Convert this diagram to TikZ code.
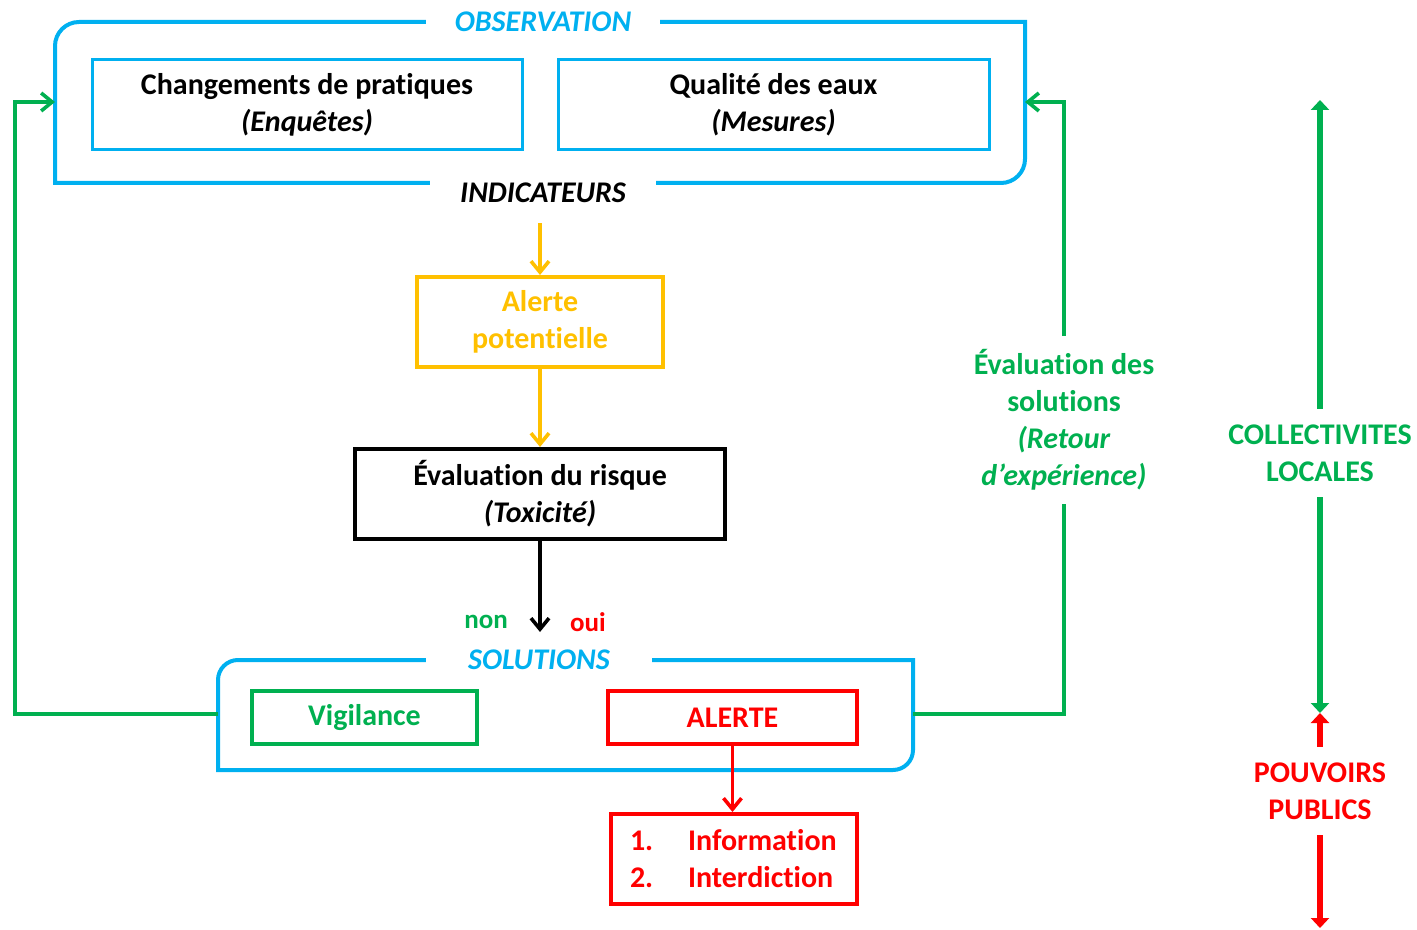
\documentclass[tikz,border=0pt]{standalone}
\usepackage{fontspec}
\setmainfont{Carlito}[Ligatures=NoCommon]
\usepackage{tikz}
\usetikzlibrary{positioning, arrows.meta}
\definecolor{obsblue}{HTML}{00B0F0}
\definecolor{okgreen}{HTML}{00B050}
\definecolor{alertred}{HTML}{FF0000}
\definecolor{alertorange}{HTML}{FFC000}

\tikzset{
  box/.style={draw, line width=2pt, align=center, inner sep=0pt, font=\bfseries},
  frameline/.style={draw=obsblue, line width=2pt},
  framelabel/.style={fill=white, text=obsblue, font=\bfseries\itshape, inner xsep=14.5pt},
  barb/.style={-{Straight Barb[length=5.5pt,width=9pt]}, line width=1.8pt},
  bigarrow/.style={line width=3pt, {Triangle[length=5pt,width=9pt]}-{Triangle[length=5pt,width=9pt]}},
  sidelabel/.style={fill=white, align=center, font=\bfseries, inner xsep=2pt}
}

\begin{document}
\fontsize{15}{18.5}\selectfont
\begin{tikzpicture}[x=0.5pt, y=-0.5pt]
    \useasboundingbox (0,0) rectangle (1417,930);

    % observation frame
    \draw[frameline] (55,100) {[rounded corners=12pt] -- (55,22) -- (540,22)} -- (1025,22)
      -- (1025,100) {[rounded corners=12pt] -- (1025,183) -- (540,183)} -- (55,183) -- cycle;
    \node[framelabel] (obs) at (543,22) {OBSERVATION};
    \node[framelabel, text=black, inner xsep=15pt] (ind) at (543,193) {INDICATEURS};
    \coordinate (obs-w) at (55,102);
    \coordinate (obs-e) at (1025,102);

    \node[box, draw=obsblue, line width=1.5pt, minimum width=215pt, minimum height=45pt] (chg) at (307,105)
      {Changements de pratiques\\\textit{(Enquêtes)}};
    \node[box, draw=obsblue, line width=1.5pt, minimum width=215.5pt, minimum height=45pt] (qual) at (773.5,105)
      {Qualité des eaux\\\textit{(Mesures)}};

    % risk chain
    \node[box, draw=alertorange, text=alertorange, minimum width=123pt, minimum height=45pt] (alpot) at (540,322)
      {Alerte\\potentielle};
    \node[box, minimum width=185pt, minimum height=45pt] (evalr) at (540,494)
      {Évaluation du risque\\\textit{(Toxicité)}};
    \coordinate (choice) at (540,632);

    \draw[barb, alertorange] ([yshift=-5pt]ind.south -| alpot.north) -- (alpot.north);
    \draw[barb, alertorange] (alpot) -- (evalr);
    \draw[barb, black] (evalr) -- (choice);
    \node[text=okgreen, font=\bfseries\fontsize{13.5}{16}\selectfont] (non) at (486,622) {non};
    \node[text=alertred, font=\bfseries\fontsize{13.5}{16}\selectfont] (oui) at (588,622) {oui};

    % solutions frame
    \draw[frameline] (218,720) {[rounded corners=10pt] -- (218,660) -- (540,660)} -- (913,660)
      -- (913,720) {[rounded corners=10pt] -- (913,770) -- (540,770)} -- (218,770) -- cycle;
    \node[framelabel, inner xsep=21pt] (sol) at (539,660) {SOLUTIONS};
    \coordinate (sol-w) at (218,714);
    \coordinate (sol-e) at (913,714);

    \node[box, draw=okgreen, text=okgreen, minimum width=112.5pt, minimum height=26.5pt] (vig) at (364.5,717.5) {Vigilance};
    \node[box, draw=alertred, text=alertred, minimum width=124.5pt, minimum height=26.5pt] (alerte) at (732.5,717.5) {ALERTE};
    \node[box, draw=alertred, text=alertred, minimum width=123pt, minimum height=45pt,
          align=left, text width=104pt, inner xsep=9.5pt] (info) at (734,859)
      {\makebox[29pt][l]{1.}Information\\\makebox[29pt][l]{2.}Interdiction};
    \draw[barb, alertred] (alerte.south) -- (alerte.south |- info.north);

    % feedback loops
    \draw[barb, okgreen] (sol-w) -- (15,714) |- (obs-w);
    \draw[barb, okgreen] (sol-e) -- (1064,714) |- (obs-e);
    \node[sidelabel, text=okgreen, inner ysep=7pt] (retour) at (1064,420)
      {Évaluation des\\solutions\\\textit{(Retour}\\\textit{d’expérience)}};

    % actors
    \coordinate (meet) at (1320,713);
    \coordinate (top) at (1320,100);
    \coordinate (bot) at (1320,928);
    \draw[bigarrow, okgreen] (meet) -- (top);
    \draw[bigarrow, alertred] (meet) -- (bot);
    \node[sidelabel, text=okgreen, inner ysep=8pt] (coll) at (1320,453) {COLLECTIVITES\\LOCALES};
    \node[sidelabel, text=alertred, inner ysep=8pt] (pouv) at (1320,791) {POUVOIRS\\PUBLICS};
\end{tikzpicture}
\end{document}
